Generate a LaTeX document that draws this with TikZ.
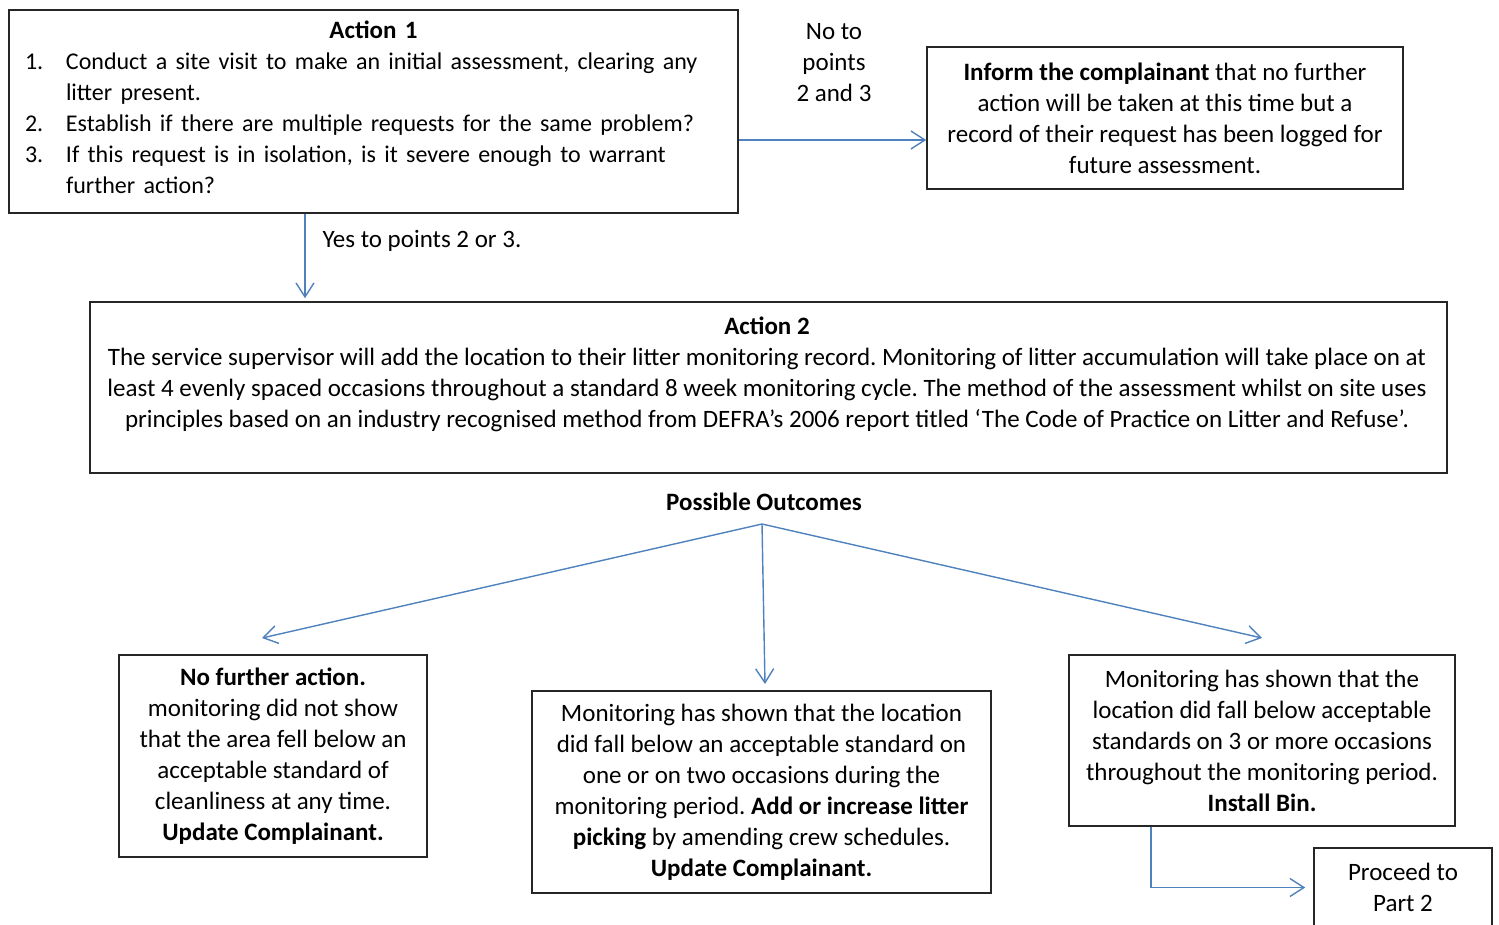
\documentclass[tikz,border=0pt]{standalone}
\usepackage{fontspec}
\setmainfont{Carlito}
\usepackage{tikz}
\usetikzlibrary{arrows.meta}
\definecolor{arrowblue}{RGB}{79,129,189}
\frenchspacing

\begin{document}
\begin{tikzpicture}[x=1pt,y=-1pt,
		font=\fontsize{25}{31}\selectfont,
		box/.style={draw=black!85, line width=1.6pt, inner sep=0pt, align=center},
		arr/.style={draw=arrowblue, line width=1.4pt, -{Straight Barb[length=14pt,width=18pt,line width=1.4pt]}}]
		\useasboundingbox (0,0) rectangle (1499,924);
		\begin{scope}                           % boxes
			\node[box, minimum width=729pt, minimum height=203pt, text width=697pt, align=left] (act1) at (373.5,111.5)
				{\makebox[\linewidth][c]{\textbf{Action 1}}\\
				\fontsize{24}{31}\selectfont
				\begin{tabular}[t]{@{}p{41pt}@{}l@{}}
					1. & Conduct a site visit to make an initial assessment, clearing any\\
					   & litter present.\\
					2. & Establish if there are multiple requests for the same problem?\\
					3. & If this request is in isolation, is it severe enough to warrant\\
					   & further action?
				\end{tabular}};
			\node[box, minimum width=476pt, minimum height=142pt] (inform) at (1165,118)
				{\textbf{Inform the complainant} that no further\\ action will be taken at this time but a\\
				record of their request has been logged for\\ future assessment.};
			\node[box, minimum width=1357pt, minimum height=171pt] (act2) at (768.5,387.5) {};
			\node[align=center] (act2txt) at (767,374)
				{\textbf{Action 2}\\
				The service supervisor will add the location to their litter monitoring record. Monitoring of litter accumulation will take place on at\\
				least 4 evenly spaced occasions throughout a standard 8 week monitoring cycle. The method of the assessment whilst on site uses\\
				principles based on an industry recognised method from DEFRA’s 2006 report titled ‘The Code of Practice on Litter and Refuse’.};
			\node[box, minimum width=308pt, minimum height=202pt] (nofurther) at (273,756)
				{\textbf{No further action.}\\ monitoring did not show\\ that the area fell below an\\
				acceptable standard of\\ cleanliness at any time.\\ \textbf{Update Complainant.}};
			\node[box, minimum width=459pt, minimum height=202pt] (picking) at (761.5,792)
				{Monitoring has shown that the location\\ did fall below an acceptable standard on\\
				one or on two occasions during the\\ monitoring period. \textbf{Add or increase litter}\\
				\textbf{picking} by amending crew schedules.\\ \textbf{Update Complainant.}};
			\node[box, minimum width=386pt, minimum height=171pt] (installbin) at (1262,740.5)
				{Monitoring has shown that the\\ location did fall below acceptable\\
				standards on 3 or more occasions\\ throughout the monitoring period.\\ \textbf{Install Bin.}};
			\node[box, minimum width=178pt, minimum height=79pt] (proceed) at (1403,887.5)
				{Proceed to\\ Part 2};
		\end{scope}
		\node[align=center] (nolbl) at (834,62.5) {No to\\ points\\ 2 and 3};
		\node[anchor=west] (yeslbl) at (319,241) {Yes to points 2 or 3.};
		\node (outcomes) at (764,502) {\textbf{Possible Outcomes}};
		\coordinate (fork) at (762,524);
		\coordinate (lefttip) at (262,638);
		\coordinate (midtip) at (765,684);
		\coordinate (righttip) at (1262,638);
		\draw[arr] ([yshift=-28.5pt]act1.east) -- ([yshift=-22pt]inform.west);
		\draw[arr, shorten >=3pt] ([xshift=-68.5pt]act1.south) -- ([xshift=-463.5pt]act2.north);
		\draw[arr] (fork) -- (lefttip);
		\draw[arr] (fork) -- (midtip);
		\draw[arr] (fork) -- (righttip);
		\draw[arr, shorten >=8pt] ([xshift=-111pt]installbin.south) |- (proceed.west);
\end{tikzpicture}
\end{document}
